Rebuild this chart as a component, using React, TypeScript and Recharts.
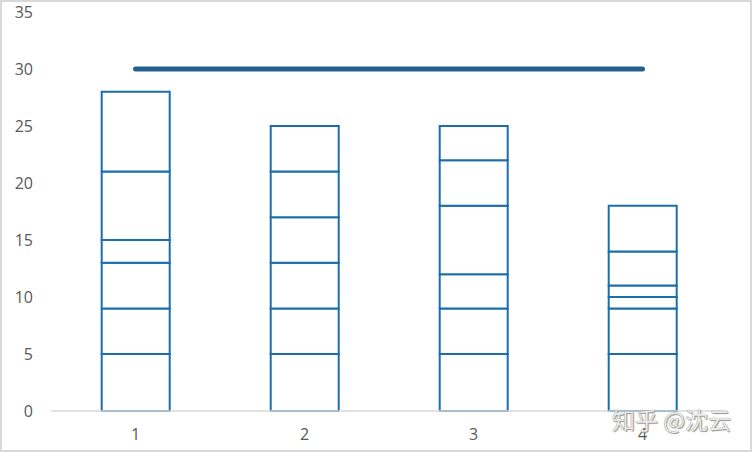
import React from "react";
import { ComposedChart, Bar, Line, XAxis, YAxis } from "recharts";

// ─── Data ─────────────────────────────────────────────────────────────────────

const categories = ["1", "2", "3", "4"];
// stacked segment heights, bottom to top
const seg1 = [5, 5, 5, 5];
const seg2 = [4, 4, 4, 4];
const seg3 = [4, 4, 3, 1];
const seg4 = [2, 4, 6, 1];
const seg5 = [6, 4, 4, 3];
const seg6 = [7, 4, 3, 4];
const target = [30, 30, 30, 30];
const yTicks = [0, 5, 10, 15, 20, 25, 30, 35];

const segments = [seg1, seg2, seg3, seg4, seg5, seg6];

const data = categories.map((c, i) => {
  const row: Record<string, string | number> = { cat: c, target: target[i] };
  segments.forEach((s, k) => {
    row[`s${k + 1}`] = s[i];
  });
  return row;
});

const BAR_STROKE = "#1b6eab";
const LINE_COLOR = "#255e91";
const TICK = { fontSize: 16, fill: "#595959", fontFamily: "Open Sans" };

export default function App() {
  return (
    <div style={{ position: "absolute", left: 0, top: 0, width: 752, height: 452, background: "#fff" }}>
      <ComposedChart
        width={752}
        height={452}
        data={data}
        margin={{ top: 12, right: 25, bottom: 0, left: 0 }}
        barCategoryGap="30%"
      >
        <XAxis
          dataKey="cat"
          height={41}
          tickLine={false}
          tickSize={0}
          tickMargin={18}
          tick={TICK}
          axisLine={{ stroke: "#d9d9d9", strokeWidth: 1.5 }}
        />
        <YAxis
          width={51}
          domain={[0, 35]}
          ticks={yTicks}
          tickLine={false}
          axisLine={false}
          tickSize={0}
          tickMargin={18}
          tick={TICK}
        />
        {segments.map((_, k) => (
          <Bar
            key={k}
            dataKey={`s${k + 1}`}
            stackId="a"
            fill="#ffffff"
            stroke={BAR_STROKE}
            strokeWidth={2}
            isAnimationActive={false}
          />
        ))}
        <Line
          dataKey="target"
          stroke={LINE_COLOR}
          strokeWidth={5}
          strokeLinecap="round"
          dot={false}
          activeDot={false}
          isAnimationActive={false}
        />
      </ComposedChart>
      {/* watermark */}
      <div
        style={{
          position: "absolute",
          left: 612,
          top: 404,
          fontSize: 23,
          fontFamily: "Noto Sans CJK SC",
          color: "#ececec",
          textShadow: "0 0 1px #666, 1px 1px 1px #999",
          whiteSpace: "nowrap",
          lineHeight: "30px",
        }}
      >
        知乎 @沈云
      </div>
      <div
        style={{
          position: "absolute",
          left: 0,
          top: 0,
          width: 752,
          height: 452,
          boxSizing: "border-box",
          border: "2px solid #d9d9d9",
          pointerEvents: "none",
        }}
      />
    </div>
  );
}
